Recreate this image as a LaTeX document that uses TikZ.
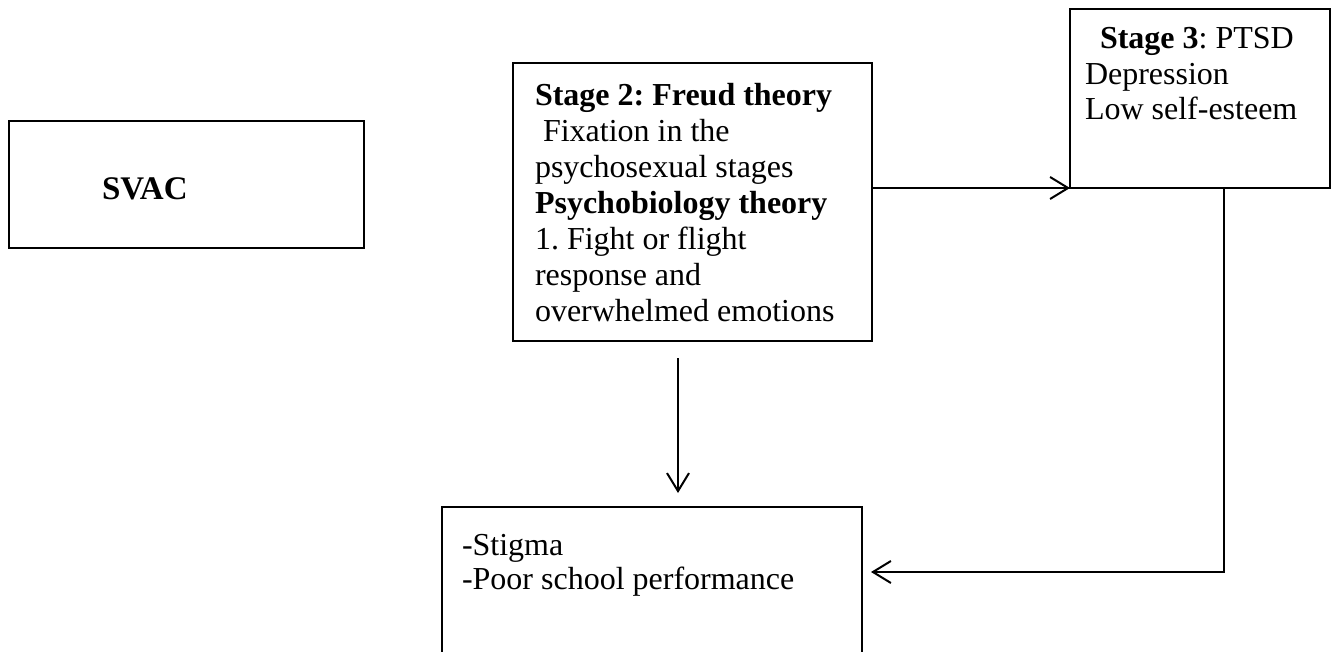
\documentclass[tikz,border=0pt]{standalone}
\usepackage{fontspec}
\setmainfont{Liberation Serif}
\frenchspacing
\usetikzlibrary{positioning,arrows.meta}
\tikzset{%
  >={Straight Barb[length=18pt,width=22pt]}, % open arrow heads
  inner sep=0pt,%
  outer sep=0pt,%
  stagebox/.style={draw,line width=2pt,anchor=north west},%
  stagetext/.style={anchor=base west,align=left,
    font=\fontsize{32}{35.5}\selectfont}%
}

\begin{document}
\begin{tikzpicture}[x=1pt,y=-1pt,line width=2pt] % one unit = one pixel, y down

\useasboundingbox (0,0) rectangle (1336,652);
\clip (0,0) rectangle (1336,652);

% the four boxes (the last one runs off the page)
\node[stagebox,minimum width=355pt,minimum height=127pt] (svac) at (9,121) {};
\node[stagebox,minimum width=359pt,minimum height=278pt] (stage2) at (513,63) {};
\node[stagebox,minimum width=260pt,minimum height=179pt] (stage3) at (1070,9) {};
\node[stagebox,minimum width=420pt,minimum height=170pt] (effects) at (442,507) {};

% texts, placed by the baseline of the last line
\node[stagetext,font=\fontsize{33}{35.5}\selectfont\bfseries] (svacText) at (102,200) {SVAC};
\node[stagetext,font=\fontsize{32}{36}\selectfont] (stage2Text) at (535,322) {\textbf{Stage 2: Freud theory}\\
  \ Fixation in the\\
  psychosexual stages\\
  \textbf{Psychobiology theory}\\
  1. Fight or flight\\
  response and\\
  overwhelmed emotions};
\node[stagetext] (stage3Text) at (1085,120) {\hspace{15pt}\textbf{Stage 3}: PTSD\\
  Depression\\
  Low self-esteem};
\node[stagetext,font=\fontsize{32}{34}\selectfont] (effectsText) at (462,589) {-Stigma\\
  -Poor school performance};

% free ends of the connectors
\coordinate[below left=17pt and 14.5pt of stage2.south] (dropTop);
\coordinate[above right=14pt and 26pt of effects.north] (dropTip);
\coordinate (backTip) at ([xshift=9pt,yshift=-65pt]effects.north east);

\draw[->] (stage3.south west -| stage2.east) -- (stage3.south west);
\draw[->] (dropTop) -- (dropTip);
\draw[->] ([xshift=24pt]stage3.south) |- (backTip);

\end{tikzpicture}
\end{document}
